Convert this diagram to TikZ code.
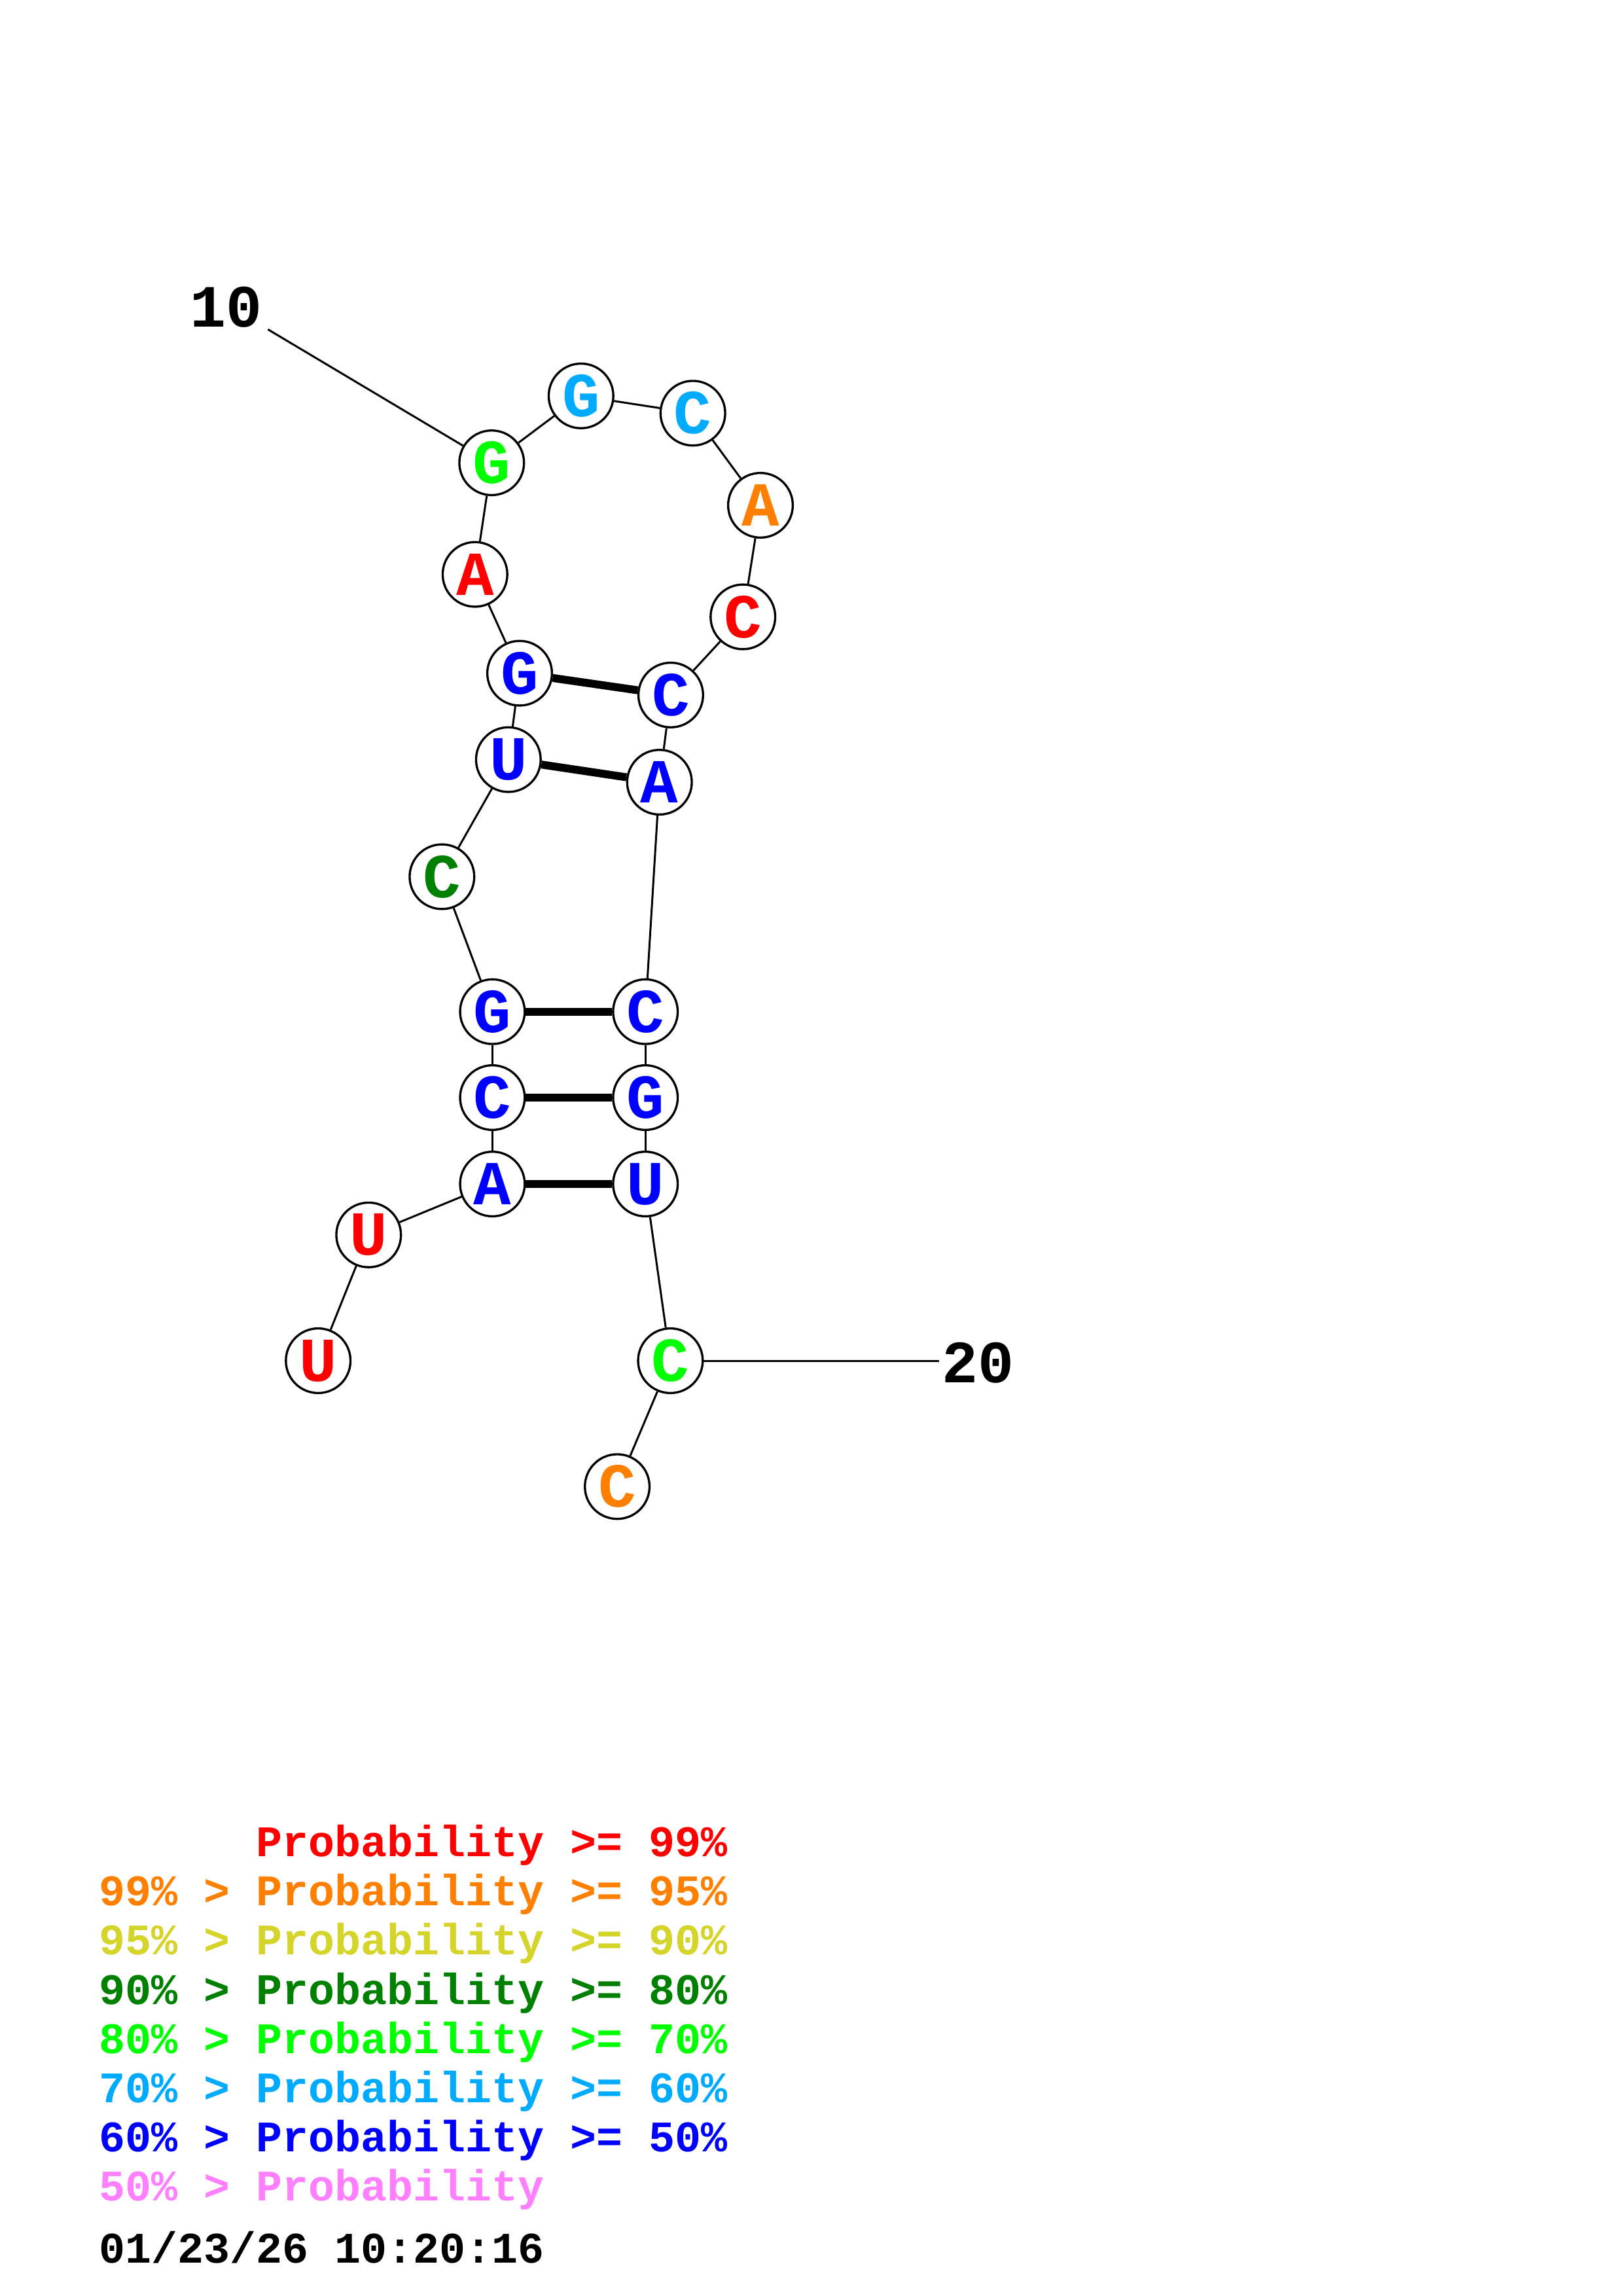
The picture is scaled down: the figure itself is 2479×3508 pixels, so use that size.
\documentclass[tikz,border=0pt]{standalone}
\usepackage{fontspec}
\newfontfamily\monof{Liberation Mono}
\definecolor{cRed}{RGB}{255,0,0}
\definecolor{cOrange}{RGB}{255,128,0}
\definecolor{cYellow}{RGB}{212,212,42}
\definecolor{cDkGreen}{RGB}{0,128,0}
\definecolor{cGreen}{RGB}{0,255,0}
\definecolor{cCyan}{RGB}{0,170,255}
\definecolor{cBlue}{RGB}{0,0,255}
\definecolor{cPink}{RGB}{255,128,255}
\newcommand{\ntfont}{\monof\bfseries\fontsize{23}{23}\selectfont}
\newcommand{\labfont}{\monof\bfseries\fontsize{22}{22}\selectfont}
\newcommand{\legfont}{\monof\bfseries\fontsize{16}{16}\selectfont}
\begin{document}
\begin{tikzpicture}[x=0.24pt,y=-0.24pt,
  nt/.style={circle, draw=black, line width=0.8pt, fill=white, inner sep=0pt, minimum size=23.7pt, font=\ntfont},
  bb/.style={line width=0.72pt, draw=black},
  bp/.style={line width=2.9pt, draw=black},
  lab/.style={inner sep=0pt, font=\labfont, text=black},
  leg/.style={anchor=base west, inner sep=0pt, font=\legfont}]
\useasboundingbox[fill=white] (0,0) rectangle (2479,3508);
% nucleotides
\node[nt, text=cRed]     (n1)  at (486.2,2079.0) {U};
\node[nt, text=cRed]     (n2)  at (563.3,1886.8) {U};
\node[nt, text=cBlue]    (n3)  at (752.4,1809.0) {A};
\node[nt, text=cBlue]    (n4)  at (752.4,1677.0) {C};
\node[nt, text=cBlue]    (n5)  at (752.4,1545.7) {G};
\node[nt, text=cDkGreen] (n6)  at (675.3,1339.5) {C};
\node[nt, text=cBlue]    (n7)  at (776.8,1160.6) {U};
\node[nt, text=cBlue]    (n8)  at (794.0,1028.6) {G};
\node[nt, text=cRed]     (n9)  at (725.8,877.6)  {A};
\node[nt, text=cGreen]   (n10) at (751.3,707.1)  {G};
\node[nt, text=cCyan]    (n11) at (887.8,604.9)  {G};
\node[nt, text=cCyan]    (n12) at (1058.7,631.3) {C};
\node[nt, text=cOrange]  (n13) at (1162.0,772.0) {A};
\node[nt, text=cRed]     (n14) at (1135.2,942.5) {C};
\node[nt, text=cBlue]    (n15) at (1024.9,1061.9) {C};
\node[nt, text=cBlue]    (n16) at (1007.7,1195.1) {A};
\node[nt, text=cBlue]    (n17) at (986.2,1545.7) {C};
\node[nt, text=cBlue]    (n18) at (986.2,1677.0) {G};
\node[nt, text=cBlue]    (n19) at (986.2,1809.0) {U};
\node[nt, text=cGreen]   (n20) at (1024.4,2079.0) {C};
\node[nt, text=cOrange]  (n21) at (943.1,2271.3) {C};
% backbone
\draw[bb] (n1) -- (n2);
\draw[bb] (n2) -- (n3);
\draw[bb] (n3) -- (n4);
\draw[bb] (n4) -- (n5);
\draw[bb] (n5) -- (n6);
\draw[bb] (n6) -- (n7);
\draw[bb] (n7) -- (n8);
\draw[bb] (n8) -- (n9);
\draw[bb] (n9) -- (n10);
\draw[bb] (n10) -- (n11);
\draw[bb] (n11) -- (n12);
\draw[bb] (n12) -- (n13);
\draw[bb] (n13) -- (n14);
\draw[bb] (n14) -- (n15);
\draw[bb] (n15) -- (n16);
\draw[bb] (n16) -- (n17);
\draw[bb] (n17) -- (n18);
\draw[bb] (n18) -- (n19);
\draw[bb] (n19) -- (n20);
\draw[bb] (n20) -- (n21);
% base pairs
\draw[bp] (n3) -- (n19);
\draw[bp] (n4) -- (n18);
\draw[bp] (n5) -- (n17);
\draw[bp] (n7) -- (n16);
\draw[bp] (n8) -- (n15);
% index labels
\node[lab] (l10) at (345.7,468.9) {10};
\coordinate (t10) at (409.4,503.3);
\draw[bb] (n10) -- (t10);
\node[lab] (l20) at (1494.5,2082.7) {20};
\coordinate (t20) at (1434.8,2079.0);
\draw[bb] (n20) -- (t20);
% legend
\node[leg, text=cRed]     (g1) at (391,2836) {Probability >= 99\%};
\node[leg, text=cOrange]  (g2) at (151,2911) {99\% > Probability >= 95\%};
\node[leg, text=cYellow]  (g3) at (151,2986) {95\% > Probability >= 90\%};
\node[leg, text=cDkGreen] (g4) at (151,3062) {90\% > Probability >= 80\%};
\node[leg, text=cGreen]   (g5) at (151,3137) {80\% > Probability >= 70\%};
\node[leg, text=cCyan]    (g6) at (151,3212) {70\% > Probability >= 60\%};
\node[leg, text=cBlue]    (g7) at (151,3287) {60\% > Probability >= 50\%};
\node[leg, text=cPink]    (g8) at (151,3362) {50\% > Probability};
\node[leg, text=black]    (g9) at (151,3457) {01/23/26 10:20:16};
\end{tikzpicture}
\end{document}
